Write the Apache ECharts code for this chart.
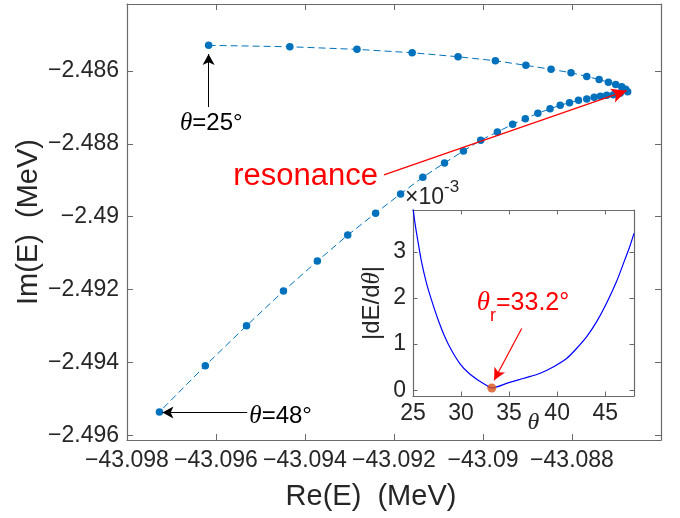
<!DOCTYPE html>
<html><head><meta charset="utf-8">
<script src="https://cdn.jsdelivr.net/npm/echarts@6/dist/echarts.min.js"></script>
<style>html,body{margin:0;padding:0;background:#fff}#c{width:680px;height:518px}</style>
</head><body><div id="c"></div>
<script>
// ---- main chart data: complex energy trajectory, theta = 25° ... 48°
const reE = [
  -43.096166, -43.094341, -43.092832, -43.091592, -43.090561, -43.089722, -43.089036,
  -43.088471, -43.088022, -43.087668, -43.087390, -43.087182, -43.087018, -43.086883,
  -43.086794, -43.086749, -43.086919, -43.087070, -43.087220, -43.087361, -43.087502,
  -43.087668, -43.087854, -43.088056, -43.088265, -43.088493, -43.088767, -43.089049,
  -43.089334, -43.089677, -43.090052, -43.090439, -43.090865, -43.091352, -43.091852,
  -43.092413, -43.093040, -43.093722, -43.094484, -43.095314, -43.096240, -43.097271
];
const imE = [
  -2.485295, -2.485334, -2.485405, -2.485498, -2.485608, -2.485718, -2.485844,
  -2.485953, -2.486047, -2.486151, -2.486233, -2.486307, -2.486367, -2.486430,
  -2.486502, -2.486568, -2.486611, -2.486650, -2.486666, -2.486694, -2.486721,
  -2.486768, -2.486803, -2.486869, -2.486941, -2.487036, -2.487160, -2.487308,
  -2.487461, -2.487673, -2.487900, -2.488194, -2.488523, -2.488915, -2.489373,
  -2.489902, -2.490505, -2.491218, -2.492041, -2.492992, -2.494089, -2.495359
];
// ---- inset data: |dE/dtheta| (units of 1e-3) vs theta (deg)
const thetaDeg = [25.0, 25.21, 25.55, 25.89, 26.41, 26.93, 27.63, 28.32, 29.01, 29.88, 30.74,
  31.78, 32.64, 33.16, 34.89, 36.14, 37.2, 38.3, 39.59, 40.98, 42.02, 43.06, 44.10,
  45.13, 46.17, 47.03, 47.55, 48.0];
const dEdTheta = [3.95, 3.616, 3.182, 2.783, 2.315, 1.952, 1.518, 1.156, 0.868, 0.579, 0.384,
  0.217, 0.108, 0.05, 0.16, 0.235, 0.30, 0.375, 0.505, 0.688, 0.905, 1.156, 1.482,
  1.881, 2.349, 2.820, 3.108, 3.399];
const resTheta = [33.2];
const resValue = [0.05];
// ---- axis ranges
const mainXRange = [-43.098, -43.086];
const mainXStep = 0.002;
const mainYRange = [-2.49613, -2.48416];
const insetXRange = [25, 48];
const insetXStep = 5;
const insetYRange = [-0.124, 3.905];

const FONT = 'Liberation Sans';
const SERIF = 'Liberation Serif';
const AX = '#262626';
const LINE = '#6a6a6a';
const minusFmt = v => String(+v.toPrecision(10)).replace('-', '\u2212');

function axisBase(extra) {
  return Object.assign({
    type: 'value', scale: true, nameMoveOverlap: false,
    axisLine: { show: true, onZero: false, lineStyle: { color: LINE, width: 1.2 } },
    splitLine: { show: false },
    axisTick: { show: true, inside: true, length: 6, lineStyle: { color: LINE, width: 1 } },
    axisLabel: { show: true, color: AX, fontFamily: FONT, fontSize: 23, showMinLabel: true, showMaxLabel: false, formatter: minusFmt }
  }, extra);
}
function mirror(a, pos) {
  const m = Object.assign({}, a);
  m.axisLine = JSON.parse(JSON.stringify(a.axisLine));
  m.axisTick = JSON.parse(JSON.stringify(a.axisTick));
  m.axisLabel = { show: false };
  m.position = pos; m.name = '';
  return m;
}

const mx = axisBase({ gridIndex: 0, position: 'bottom', min: mainXRange[0], max: mainXRange[1], interval: mainXStep,
  name: 'Re(E)  (MeV)', nameLocation: 'middle', nameGap: 42,
  nameTextStyle: { color: AX, fontFamily: FONT, fontSize: 29, padding: [0, 46, 0, 0] } });
mx.axisLabel.margin = 9;
const my = axisBase({ gridIndex: 0, position: 'left', min: mainYRange[0], max: mainYRange[1], splitNumber: 5,
  name: 'Im(E)  (MeV)', nameLocation: 'middle', nameGap: 84,
  nameTextStyle: { color: AX, fontFamily: FONT, fontSize: 29 } });
my.axisLabel.showMinLabel = false; my.axisLabel.margin = 8;

const ix = axisBase({ gridIndex: 1, position: 'bottom', min: insetXRange[0], max: insetXRange[1], interval: insetXStep,
  name: '{th|θ}', nameLocation: 'middle', nameGap: 15,
  nameTextStyle: { color: AX, padding: [0, 0, 0, 20], rich: { th: { fontFamily: SERIF, fontStyle: 'italic', fontSize: 24, color: AX } } } });
ix.axisTick.length = 4.5; ix.axisLabel.margin = 6;
const iy = axisBase({ gridIndex: 1, position: 'left', min: insetYRange[0], max: insetYRange[1], splitNumber: 5,
  name: '|dE/d{th|θ}|', nameLocation: 'middle', nameGap: 28,
  nameTextStyle: { color: AX, fontFamily: FONT, fontSize: 24,
    rich: { th: { fontFamily: SERIF, fontStyle: 'italic', fontSize: 25, color: AX } } } });
iy.axisTick.length = 4.5; iy.axisLabel.margin = 7; iy.axisLabel.showMinLabel = false;

// "x10^-3" multiplier as a name at the inset top
const iyR = mirror(iy, 'right');
const iyMult = mirror(iy, 'left');
iyMult.axisLine = { show: false }; iyMult.axisTick = { show: false };
iyMult.name = '{a|×10}{s|-3}';
iyMult.nameLocation = 'end';
iyMult.nameGap = 1;
iyMult.nameTextStyle = { align: 'left', padding: [0, 0, 0, -8],
  rich: { a: { fontFamily: FONT, fontSize: 23, color: AX, lineHeight: 30, verticalAlign: 'bottom' },
          s: { fontFamily: FONT, fontSize: 17, color: AX, verticalAlign: 'top' } } };

const thRich = { th: { fontFamily: SERIF, fontStyle: 'italic', fontSize: 25, color: '#000' },
                 t: { fontFamily: FONT, fontSize: 24, color: '#000' } };

const option = {
  backgroundColor: '#fff',
  animation: false,
  grid: [
    { left: 127, right: 19, top: 4, bottom: 78, containLabel: false },
    { left: 413, right: 46, top: 210, bottom: 122, containLabel: false, show: true, backgroundColor: '#fff', borderWidth: 0 }
  ],
  xAxis: [mx, mirror(mx, 'top'), ix, mirror(ix, 'top')],
  yAxis: [my, mirror(my, 'right'), iy, iyR, iyMult],
  series: [
    {
      type: 'line', xAxisIndex: 0, yAxisIndex: 0,
      data: reE.map((x, i) => [x, imE[i]]),
      symbol: 'circle', symbolSize: 7.5, showSymbol: true,
      itemStyle: { color: '#0072BD' },
      lineStyle: { color: '#0072BD', width: 1, type: [7, 4] },
      emphasis: { disabled: true }, silent: true, z: 3,
      markLine: {
        silent: true, animation: false, label: { show: false }, emphasis: { disabled: true },
        data: [
          [ { coord: [-43.096166, -2.486987], symbol: 'none', lineStyle: { color: '#000', width: 1, type: 'solid' } },
            { coord: [-43.096166, -2.485534], symbol: 'arrow', symbolSize: [9, 11] } ],
          [ { coord: [-43.095298, -2.495378], symbol: 'none', lineStyle: { color: '#000', width: 1, type: 'solid' } },
            { coord: [-43.097204, -2.495378], symbol: 'arrow', symbolSize: [9, 11] } ],
          [ { coord: [-43.092226, -2.488852], symbol: 'none', lineStyle: { color: '#ff0000', width: 1.2, type: 'solid' } },
            { coord: [-43.086771, -2.48654], symbol: 'arrow', symbolSize: [11, 15] } ]
        ]
      },
      markPoint: {
        silent: true, animation: false, symbol: 'circle', symbolSize: 0,
        data: [
          { coord: [-43.096105, -2.487426], label: { show: true, position: 'inside', formatter: '{th|θ}{t|=25°}', rich: thRich } },
          { coord: [-43.094547, -2.495487], label: { show: true, position: 'inside', formatter: '{th|θ}{t|=48°}', rich: thRich } },
          { coord: [-43.093987, -2.488907], label: { show: true, position: 'inside', formatter: 'resonance',
              color: '#ff0000', fontFamily: FONT, fontSize: 31 } }
        ]
      }
    },
    {
      type: 'line', xAxisIndex: 2, yAxisIndex: 2,
      data: thetaDeg.map((t, i) => [t, dEdTheta[i]]),
      showSymbol: false, symbol: 'none', smooth: 0.3,
      lineStyle: { color: '#0000ff', width: 1.2 },
      emphasis: { disabled: true }, silent: true, z: 4,
      markLine: {
        silent: true, animation: false, label: { show: false }, emphasis: { disabled: true },
        data: [
          [ { coord: [36.31, 1.338], symbol: 'none', lineStyle: { color: '#ff0000', width: 1.2, type: 'solid' } },
            { coord: [33.44, 0.217], symbol: 'arrow', symbolSize: [9, 12] } ]
        ]
      },
      markPoint: {
        silent: true, animation: false, symbol: 'circle', symbolSize: 0,
        data: [
          { coord: [36.45, 1.887], label: { show: true, position: 'inside', formatter: '{th|θ}{r|r}{t|=33.2°}',
              rich: {
                th: { fontFamily: SERIF, fontStyle: 'italic', fontSize: 27, color: '#ff0000', lineHeight: 44 },
                r: { fontFamily: FONT, fontSize: 18, color: '#ff0000', verticalAlign: 'bottom' },
                t: { fontFamily: FONT, fontSize: 25, color: '#ff0000', lineHeight: 44 }
              } } }
        ]
      }
    },
    {
      type: 'scatter', xAxisIndex: 2, yAxisIndex: 2,
      data: resTheta.map((t, i) => [t, resValue[i]]),
      symbol: 'circle', symbolSize: 9,
      itemStyle: { color: '#D95319' },
      emphasis: { disabled: true }, silent: true, z: 5
    }
  ]
};
const chart = echarts.init(document.getElementById('c'), null, { renderer: 'canvas' });
chart.setOption(option);
</script>
</body></html>
